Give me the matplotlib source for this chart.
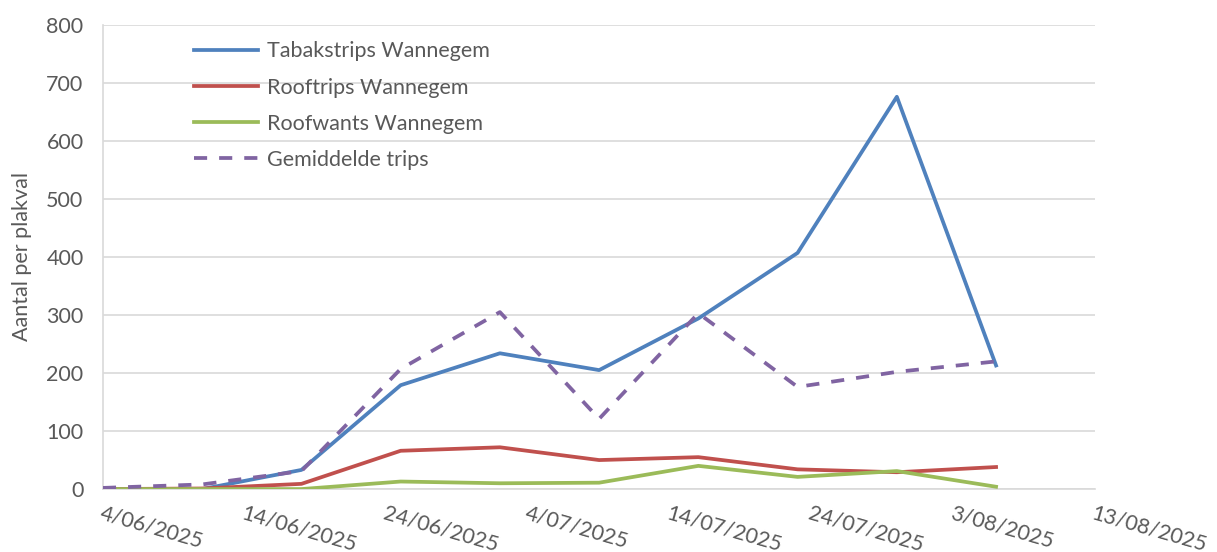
import matplotlib
matplotlib.use("Agg")
import matplotlib.pyplot as plt
import matplotlib.dates as mdates
import datetime as dt

plt.rcParams['font.family'] = ['Lato', 'DejaVu Sans']

# Gegevens
datums = ["2025-06-04", "2025-06-11", "2025-06-18", "2025-06-25", "2025-07-02",
          "2025-07-09", "2025-07-16", "2025-07-23", "2025-07-30", "2025-08-06"]
tabakstrips = [0, 0, 33, 179, 234, 205, 294, 407, 676, 213]
rooftrips = [0, 1, 9, 66, 72, 50, 55, 34, 29, 38]
roofwants = [0, 0, 0, 13, 10, 11, 40, 21, 31, 4]
gemiddelde = [2, 8, 31, 207, 305, 121, 303, 176, 202, 220]

x = [dt.datetime.strptime(d, "%Y-%m-%d") for d in datums]
grijs = "#595959"
fs = 15.5

fig = plt.figure(figsize=(12.17, 5.52), dpi=100)
ax = fig.add_axes([0.0846, 0.114, 0.8154, 0.841])

ax.plot(x, tabakstrips, color="#4f81bd", lw=2.7, label="Tabakstrips Wannegem", zorder=3)
ax.plot(x, rooftrips, color="#c0504d", lw=2.7, label="Rooftrips Wannegem", zorder=3)
ax.plot(x, roofwants, color="#9bbb59", lw=2.7, label="Roofwants Wannegem", zorder=3)
ax.plot(x, gemiddelde, color="#8064a2", lw=2.7, ls=(0, (3.5, 3.2)), label="Gemiddelde trips", zorder=4)

ax.set_xlim(dt.datetime(2025, 6, 4), dt.datetime(2025, 8, 13))
ax.set_ylim(0, 800)
ax.set_yticks(range(0, 801, 100))
ax.set_xticks([dt.datetime(2025, 6, 4) + dt.timedelta(days=10 * i) for i in range(8)])
ax.xaxis.set_major_formatter(plt.FuncFormatter(
    lambda v, p: (lambda d: f"{d.day}/{d:%m/%Y}")(mdates.num2date(v))))

ax.grid(axis="y", color="#d9d9d9", lw=1.2, zorder=0)
for s in ["top", "right"]:
    ax.spines[s].set_visible(False)
for s in ["left", "bottom"]:
    ax.spines[s].set_color("#d9d9d9")
    ax.spines[s].set_linewidth(1.2)

ax.tick_params(axis="both", length=0, colors=grijs, labelsize=fs)
ax.tick_params(axis="x", pad=10)
ax.tick_params(axis="y", pad=14)
for lbl in ax.get_xticklabels():
    lbl.set_rotation(-16)
    lbl.set_ha("left")
    lbl.set_rotation_mode("anchor")

ax.set_ylabel("Aantal per plakval", color=grijs, fontsize=fs, labelpad=10)

leg = ax.legend(loc="upper left", bbox_to_anchor=(0.072, 1.006), frameon=False,
                fontsize=fs, handlelength=3.0, handletextpad=0.4, labelspacing=0.75,
                labelcolor=grijs)

fig.savefig("out.png", dpi=100)
